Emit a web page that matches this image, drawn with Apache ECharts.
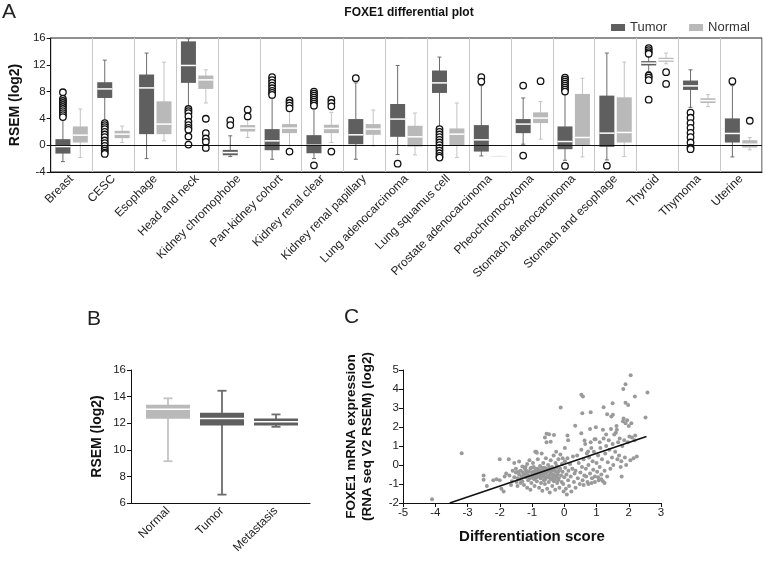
<!DOCTYPE html>
<html><head><meta charset="utf-8">
<script src="https://cdn.jsdelivr.net/npm/echarts@6/dist/echarts.min.js"></script>
<style>html,body{margin:0;padding:0;background:#fff}#main{width:763px;height:561px}</style>
</head><body><div id="main"></div>
<script>
const FONT = '"Liberation Sans", Arial, Helvetica, sans-serif';

// ---------- Panel A data ----------
const categories = ['Breast','CESC','Esophage','Head and neck','Kidney chromophobe','Pan-kidney cohort',
  'Kidney renal clear','Kidney renal papillary','Lung adenocarcinoma','Lung squamus cell',
  'Prostate adenocarcinoma','Pheochromocytoma','Stomach adenocarcinoma','Stomach and esophage',
  'Thyroid','Thymoma','Uterine'];
// [low whisker, Q1, median, Q3, high whisker]
const tumorBox = [
  [-2.45,-1.25,-0.2,0.9,4.05],
  [3.6,7.05,8.4,9.4,12.7],
  [-2.0,1.65,8.55,10.55,13.75],
  [5.7,9.3,11.9,15.5,15.9],
  [-1.7,-1.5,-1.1,-0.7,1.4],
  [-2.1,-0.75,0.65,2.4,7.15],
  [-2.0,-1.2,0.0,1.5,5.65],
  [-2.1,0.15,1.55,3.9,9.3],
  [-1.4,1.25,3.9,6.15,11.9],
  [2.65,7.8,9.3,11.15,13.15],
  [-1.6,-0.95,0.8,3.0,8.9],
  [0.15,1.8,3.15,3.9,7.05],
  [-2.25,-0.6,0.55,2.8,7.6],
  [-2.2,-0.25,1.8,7.4,13.75],
  [11.0,11.9,12.25,12.55,13.3],
  [5.65,8.25,8.85,9.65,11.25],
  [-1.75,0.4,1.75,4.0,8.9]
];
const normalBox = [
  [-1.85,0.4,1.5,2.8,5.4],
  [0.4,1.05,1.65,2.15,2.85],
  [0.65,1.65,3.15,6.55,12.4],
  [6.3,8.4,9.75,10.4,11.25],
  [1.15,2.05,2.55,3.0,3.9],
  [-0.1,1.8,2.55,3.15,5.15],
  [0.4,1.8,2.5,3.05,4.9],
  [-0.1,1.55,2.4,3.15,5.25],
  [-1.45,-0.2,1.25,2.9,4.8],
  [-1.85,-0.1,1.65,2.5,6.3],
  [-1.6,-1.6,-1.6,-1.6,-1.6],
  [0.9,3.3,4.05,4.9,6.5],
  [-1.75,-0.1,1.15,7.65,10.0],
  [-1.7,0.4,1.9,7.15,12.4],
  [12.15,12.45,12.75,13.05,13.75],
  [5.75,6.3,6.65,7.0,7.55],
  [-0.7,-0.35,0.15,0.75,1.15]
];
const tumorOutliers = [
  [7.9,6.9,6.6,6.3,6.0,5.7,5.4,5.1,4.8,4.5,4.2],
  [3.3,3.0,2.7,2.4,2.0,1.6,1.2,0.7,0.3,-0.1,-0.5,-0.8,-1.1,-1.3],
  [],
  [5.4,5.1,4.8,4.3,3.5,3.0,2.6,2.3,1.3,0.1],
  [3.7,3.0],
  [10.15,9.7,9.3,8.9,8.5,8.1,7.8,7.5],
  [8.0,7.7,7.4,7.1,6.8,6.5,6.2,5.9,-3.0],
  [10.0],
  [-2.75],
  [2.4,2.0,1.6,1.2,0.8,0.4,0.0,-0.4,-0.8,-1.2,-1.6,-1.85],
  [10.15,9.5],
  [8.9,-1.55],
  [10.1,9.8,9.5,9.2,8.9,8.6,8.3,8.0,-3.1],
  [-3.05],
  [14.5,14.2,13.9,13.65,10.4,10.1,9.7,6.8],
  [4.85,4.1,3.3,2.6,1.85,1.2,0.4,-0.35,-0.6],
  [9.55]
];
const normalOutliers = [
  [],[],[],
  [3.95,1.8,1.0,0.5,-0.4],
  [5.3,4.3],
  [6.7,6.3,5.9,5.5,-0.95],
  [6.8,6.3,5.8,-0.95],
  [],[],[],[],
  [9.55],
  [],[],
  [10.9,9.15],
  [],
  [3.65]
];

// ---------- Panel B data ----------
const bLabels = ['Normal','Tumor','Metastasis'];
const bBox = [
  [9.14,12.33,13.04,13.39,13.87],
  [6.63,11.83,12.36,12.79,14.44],
  [11.73,11.83,12.1,12.36,12.66]
];

// ---------- Panel C data ----------
const cPoints = [
  [-4.1,-1.8],[-3.18,0.62],[-2.5,-0.55],[-2.5,-0.78],[-2.4,-1.1],[-2.2,-0.8],[-2.1,-0.75],[-2.0,-0.8],
  [-2.0,0.3],[-1.72,0.3],[-1.95,-1.25],[-1.88,-1.4],[-1.8,-0.45],[-1.85,-0.6],[-1.7,-0.55],[-1.62,-0.85],
  [-1.55,0.1],[-1.4,0.18],[-1.3,-0.08],[-1.5,-0.2],[-1.35,-0.3],[-1.2,-0.1],[-1.1,-0.35],[-1.65,-1.05],
  [-1.45,-1.1],[-1.35,-0.95],[-1.25,-1.05],[-1.15,-1.2],[-1.05,-1.3],
  [-1.25,-0.5],[-1.2,-0.65],[-1.18,-0.3],[-1.15,0.05],[-1.12,-0.8],[-1.1,-0.55],[-1.08,0.25],[-1.05,-0.2],
  [-1.02,-0.95],[-1.0,-0.4],[-0.98,-0.65],[-0.97,0.1],[-0.95,-0.1],[-0.93,-0.75],[-0.92,-1.1],[-0.9,-0.3],
  [-0.88,-0.5],[-0.87,0.7],[-0.85,-0.85],[-0.83,-0.2],[-0.82,0.3],[-0.8,-0.6],[-0.78,-1.2],[-0.77,-0.4],
  [-0.75,-0.05],[-0.73,-0.7],[-0.72,-0.95],[-0.7,0.6],[-0.7,-0.3],[-0.68,-1.35],[-0.66,-0.55],[-0.65,0.1],
  [-0.63,-0.8],[-0.62,-0.15],[-0.6,-1.0],[-0.58,-0.45],[-0.57,0.35],[-0.55,-0.65],[-0.53,-1.25],[-0.52,-0.25],
  [-0.5,0.0],[-0.48,-0.9],[-0.47,-0.55],[-0.45,-1.45],[-0.43,-0.35],[-0.42,0.25],[-0.4,-0.75],[-0.38,-0.1],
  [-0.37,-1.1],[-0.35,-0.5],[-0.33,0.5],[-0.32,-0.85],[-0.3,-0.3],[-0.28,-1.3],[-0.27,0.1],[-0.25,-0.6],
  [-0.23,-0.05],[-0.22,-0.95],[-0.2,-0.4],[-0.18,0.3],[-0.17,-0.7],[-0.15,-1.2],[-0.13,-0.2],[-0.12,0.55],
  [-0.1,-0.55],[-0.08,-0.9],[-0.07,0.05],[-0.05,-0.35],[-0.03,-1.0],[-0.02,-1.4],[0.0,-0.65],[0.02,0.2],
  [0.03,-0.15],[0.05,-1.25],[0.07,-0.5],[0.08,-1.55],[0.1,0.35],[0.12,-0.8],[0.13,-0.3],[0.15,-1.1],
  [0.18,0.05],[0.2,-0.6],[0.22,-1.4],[0.25,-0.2],[0.27,0.45],[0.3,-0.9],[0.32,-0.45],[0.35,-1.2],
  [-1.28,-0.4],[-1.22,-0.2],[-1.17,-0.45],[-1.13,-0.6],[-1.06,-0.7],[-1.03,-0.15],[-0.99,-0.5],[-0.96,-0.35],
  [-0.94,-0.6],[-0.91,-0.45],[-0.89,-0.2],[-0.86,-0.65],[-0.84,-0.35],[-0.81,-0.45],[-0.79,-0.25],[-0.76,-0.55],
  [-0.74,-0.35],[-0.71,-0.5],[-0.69,-0.15],[-0.67,-0.4],[-0.64,-0.6],[-0.61,-0.3],[-0.59,-0.75],[-0.56,-0.2],
  [-0.54,-0.4],[-0.51,-0.6],[-0.49,-0.3],[-0.46,-0.15],[-0.44,-0.7],[-0.41,-0.45],[-0.39,-0.3],[-0.36,-0.65],
  [-0.34,-0.2],[-0.31,-0.55],[-0.29,-0.75],[-0.26,-0.35],[-0.24,-0.15],[-0.21,-0.5],[-0.19,-0.8],[-0.16,-0.3],
  [-1.4,-0.5],[-1.45,-0.7],[-1.38,-0.75],[-1.32,-0.6],[-1.5,-0.4],[-1.55,-0.65],[-1.6,-0.3],[-1.42,-0.35],
  [-1.3,-0.85],[-1.48,-0.9],
  [-0.9,0.7],[-0.85,0.65],[-0.6,1.45],[-0.55,1.65],[-0.47,1.62],[-0.32,1.58],[-0.42,1.22],[-0.55,1.2],
  [-0.25,0.7],[-0.05,0.35],[0.1,1.55],[0.02,0.9],[0.12,1.3],
  [0.35,-0.3],[0.4,0.5],[0.42,-0.7],[0.45,0.1],[0.48,-1.0],[0.5,-0.4],[0.53,0.8],[0.55,-0.1],[0.57,-0.8],
  [0.6,0.3],[0.62,-0.55],[0.65,1.1],[0.67,-0.2],[0.7,0.6],[0.72,-0.9],[0.75,0.0],[0.77,0.4],[0.8,-0.45],
  [0.82,1.2],[0.84,0.9],[0.86,-0.7],[0.88,0.2],[0.9,-0.25],[0.92,0.7],[0.95,-0.6],[0.97,1.35],[1.0,0.1],
  [1.02,-0.35],[1.05,0.5],[1.07,-0.8],[1.1,-0.1],[1.12,0.9],[1.15,-0.5],[1.17,0.3],[1.2,-0.85],[1.22,1.4],
  [1.25,-0.3],[1.27,0.6],[1.3,1.0],[1.33,-0.6],[1.35,0.15],[1.38,1.3],[1.4,0.8],[1.43,-0.2],[1.45,1.9],
  [1.48,0.4],[1.5,1.1],[1.52,0.0],[1.55,1.6],[1.58,0.7],[1.6,1.7],[1.62,2.05],[1.63,1.85],[1.65,0.3],
  [1.67,1.2],[1.7,0.5],[1.72,1.4],[1.75,-0.1],[1.77,0.2],[1.78,-0.6],[1.8,1.0],[1.82,2.3],[1.84,2.45],
  [1.86,1.3],[1.88,0.4],[1.9,2.2],[1.92,0.0],[1.95,2.35],[1.97,1.2],[2.0,2.05],[2.02,1.5],[2.05,0.25],
  [2.08,2.2],[2.1,1.45],[2.15,0.35],[2.2,1.55],[2.25,0.45],[2.18,1.3],
  [-0.11,3.02],[0.53,3.7],[0.58,3.6],[0.56,2.72],[0.82,2.78],[0.34,2.06],[0.98,1.99],[1.2,1.85],[0.53,1.67],
  [0.63,1.29],[0.94,1.36],[1.22,3.04],[1.5,3.25],[1.33,2.67],[1.46,2.55],[1.51,2.64],[1.9,3.28],[1.98,3.16],
  [2.06,4.72],[1.9,4.25],[1.83,4.0],[2.19,3.6],[2.58,3.81],[2.52,2.5],[1.3,1.6],[1.1,1.2],[0.74,0.71],[0.8,1.9],
  [0.85,-0.95],[0.95,-0.9],[1.05,-0.65],[1.15,-0.75],[1.25,-0.95],[0.75,-1.0],[0.6,-1.05],[0.68,-0.6]
];
const cFit = [[-3.55,-2.0],[2.55,1.5]];

// ---------- styling ----------
const TUMOR = '#5f5f5f', NORMAL = '#b9b9b9';
const TUMOR_W = '#6c6c6c', NORMAL_W = '#c4c4c4';

function boxRenderer(offset, boxW, capW, fills, whisks, lw) {
  return function (params, api) {
    const i = api.value(0);
    const pLow = api.coord([i, api.value(1)]);
    const pQ1 = api.coord([i, api.value(2)]);
    const pMed = api.coord([i, api.value(3)]);
    const pQ3 = api.coord([i, api.value(4)]);
    const pHigh = api.coord([i, api.value(5)]);
    const cx = pLow[0] + offset;
    const fill = fills[params.dataIndex % fills.length];
    const wc = whisks[params.dataIndex % whisks.length];
    const h = Math.max(pQ1[1] - pQ3[1], 1);
    return {
      type: 'group',
      children: [
        { type: 'line', shape: { x1: cx, y1: pHigh[1], x2: cx, y2: pLow[1] }, style: { stroke: wc, lineWidth: lw } },
        { type: 'line', shape: { x1: cx - capW / 2, y1: pHigh[1], x2: cx + capW / 2, y2: pHigh[1] }, style: { stroke: wc, lineWidth: lw } },
        { type: 'line', shape: { x1: cx - capW / 2, y1: pLow[1], x2: cx + capW / 2, y2: pLow[1] }, style: { stroke: wc, lineWidth: lw } },
        { type: 'rect', shape: { x: cx - boxW / 2, y: pQ3[1], width: boxW, height: h }, style: { fill: fill, stroke: null } },
        { type: 'line', shape: { x1: cx - boxW / 2, y1: pMed[1], x2: cx + boxW / 2, y2: pMed[1] }, style: { stroke: '#ffffff', lineWidth: 1.5 } }
      ]
    };
  };
}

function outlierData(list) {
  const out = [];
  list.forEach((arr, i) => arr.forEach(v => out.push([i, v])));
  return out;
}

const axisText = { color: '#222', fontFamily: FONT, fontSize: 11.5 };
const nameText = { color: '#111', fontFamily: FONT, fontSize: 14, fontWeight: 'bold' };
const blackLine = { show: true, onZero: false, lineStyle: { color: '#111', width: 1 } };

const chart = echarts.init(document.getElementById('main'), null, { renderer: 'canvas' });
const option = {
  backgroundColor: '#fff',
  animation: false,
  textStyle: { fontFamily: FONT },
  title: {
    text: 'FOXE1 differential plot', left: 404, top: 2, textAlign: 'center',
    textStyle: { fontFamily: FONT, fontSize: 12, fontWeight: 'bold', color: '#111' }
  },
  legend: {
    data: ['Tumor', 'Normal'], right: 8, top: 16, icon: 'rect', itemWidth: 14, itemHeight: 7, itemGap: 22,
    textStyle: { fontFamily: FONT, fontSize: 13, color: '#333' }
  },
  graphic: [
    { type: 'text', left: 2, top: 2, style: { text: 'A', fontFamily: FONT, fontSize: 21, fill: '#222' } },
    { type: 'text', left: 87, top: 309, style: { text: 'B', fontFamily: FONT, fontSize: 21, fill: '#222' } },
    { type: 'text', left: 344, top: 307, style: { text: 'C', fontFamily: FONT, fontSize: 21, fill: '#222' } }
  ],
  grid: [
    { left: 40, top: 38, width: 722, height: 134, show: true, borderColor: '#222', borderWidth: 1, backgroundColor: 'transparent' },
    { left: 131, top: 370, width: 179, height: 133 },
    { left: 141, top: 370, width: 162, height: 133 },
    { left: 403, top: 370, width: 258, height: 133 }
  ],
  xAxis: [
    {
      type: 'category', gridIndex: 0, data: categories, boundaryGap: true,
      axisLine: blackLine, axisTick: { show: false },
      axisLabel: { rotate: 45, interval: 0, margin: 5, fontSize: 12, color: '#222', fontFamily: FONT },
      splitLine: { show: true, lineStyle: { color: '#c8c8c8', width: 1 } }
    },
    {
      type: 'value', gridIndex: 1, min: 0, max: 1,
      axisLine: blackLine, axisTick: { show: false }, axisLabel: { show: false }, splitLine: { show: false }
    },
    {
      type: 'category', gridIndex: 2, data: bLabels, boundaryGap: true,
      axisLine: { show: false }, axisTick: { show: false },
      axisLabel: { rotate: 45, interval: 0, margin: 6, color: '#222', fontFamily: FONT, fontSize: 12 },
      splitLine: { show: false }
    },
    {
      type: 'value', gridIndex: 3, min: -5, max: 3, interval: 1,
      axisLine: blackLine, axisTick: { show: true, length: 4, lineStyle: { color: '#111' } },
      axisLabel: Object.assign({ margin: 4 }, axisText), splitLine: { show: false },
      name: 'Differentiation score', nameLocation: 'middle', nameGap: 26,
      nameTextStyle: { color: '#111', fontFamily: FONT, fontSize: 15, fontWeight: 'bold' }
    }
  ],
  yAxis: [
    {
      type: 'value', gridIndex: 0, min: -4, max: 16, interval: 4,
      axisLine: blackLine, axisTick: { show: true, length: 4, lineStyle: { color: '#111' } },
      axisLabel: Object.assign({ margin: 5 }, axisText), splitLine: { show: false },
      name: 'RSEM (log2)', nameLocation: 'middle', nameGap: 20, nameTextStyle: nameText
    },
    {
      type: 'value', gridIndex: 1, min: 6, max: 16, interval: 2,
      axisLine: blackLine, axisTick: { show: true, length: 4, lineStyle: { color: '#111' } },
      axisLabel: Object.assign({ margin: 5 }, axisText), splitLine: { show: false },
      name: 'RSEM (log2)', nameLocation: 'middle', nameGap: 27, nameTextStyle: nameText
    },
    {
      type: 'value', gridIndex: 2, min: 6, max: 16, interval: 2, show: false
    },
    {
      type: 'value', gridIndex: 3, min: -2, max: 5, interval: 1,
      axisLine: blackLine, axisTick: { show: true, length: 4, lineStyle: { color: '#111' } },
      axisLabel: Object.assign({ margin: 4 }, axisText), splitLine: { show: false },
      name: 'FOXE1 mRNA expression\n(RNA seq V2 RSEM) (log2)', nameLocation: 'middle', nameGap: 28,
      nameTextStyle: { color: '#111', fontFamily: FONT, fontSize: 13.5, fontWeight: 'bold', lineHeight: 16 }
    }
  ],
  series: [
    {
      type: 'line', xAxisIndex: 0, yAxisIndex: 0, data: [], silent: true,
      markLine: { symbol: 'none', silent: true, label: { show: false },
        lineStyle: { color: '#111', width: 1, type: 'solid' }, data: [{ yAxis: 0 }] }
    },
    {
      name: 'Tumor', type: 'custom', xAxisIndex: 0, yAxisIndex: 0, itemStyle: { color: TUMOR },
      renderItem: boxRenderer(-8.7, 15, 4, [TUMOR], [TUMOR_W], 1),
      encode: { x: 0, y: [1, 2, 3, 4, 5] },
      data: tumorBox.map((s, i) => [i].concat(s)), z: 3
    },
    {
      name: 'Normal', type: 'custom', xAxisIndex: 0, yAxisIndex: 0, itemStyle: { color: NORMAL },
      renderItem: boxRenderer(8.7, 15, 4, [NORMAL], [NORMAL_W], 1),
      encode: { x: 0, y: [1, 2, 3, 4, 5] },
      data: normalBox.map((s, i) => [i].concat(s)), z: 3
    },
    {
      name: 'Tumor outliers', type: 'scatter', xAxisIndex: 0, yAxisIndex: 0,
      symbol: 'circle', symbolSize: 6.5, symbolOffset: [-8.7, 0],
      itemStyle: { color: '#fff', borderColor: '#111', borderWidth: 1.3, opacity: 1 },
      data: outlierData(tumorOutliers), z: 4
    },
    {
      name: 'Normal outliers', type: 'scatter', xAxisIndex: 0, yAxisIndex: 0,
      symbol: 'circle', symbolSize: 6.5, symbolOffset: [8.7, 0],
      itemStyle: { color: '#fff', borderColor: '#111', borderWidth: 1.3, opacity: 1 },
      data: outlierData(normalOutliers), z: 4
    },
    {
      name: 'B boxes', type: 'custom', xAxisIndex: 2, yAxisIndex: 2,
      renderItem: boxRenderer(0, 44, 9, [NORMAL, TUMOR, TUMOR], [NORMAL_W, TUMOR_W, TUMOR_W], 1.8),
      encode: { x: 0, y: [1, 2, 3, 4, 5] },
      data: bBox.map((s, i) => [i].concat(s)), z: 3
    },
    {
      name: 'C points', type: 'scatter', xAxisIndex: 3, yAxisIndex: 3,
      symbol: 'circle', symbolSize: 4, itemStyle: { color: '#9a9a9a', opacity: 1 },
      data: cPoints, z: 2
    },
    {
      name: 'C fit', type: 'line', xAxisIndex: 3, yAxisIndex: 3, showSymbol: false, symbol: 'none',
      lineStyle: { color: '#111', width: 1.6 }, data: cFit, z: 4
    }
  ]
};
chart.setOption(option);
</script>
</body></html>
